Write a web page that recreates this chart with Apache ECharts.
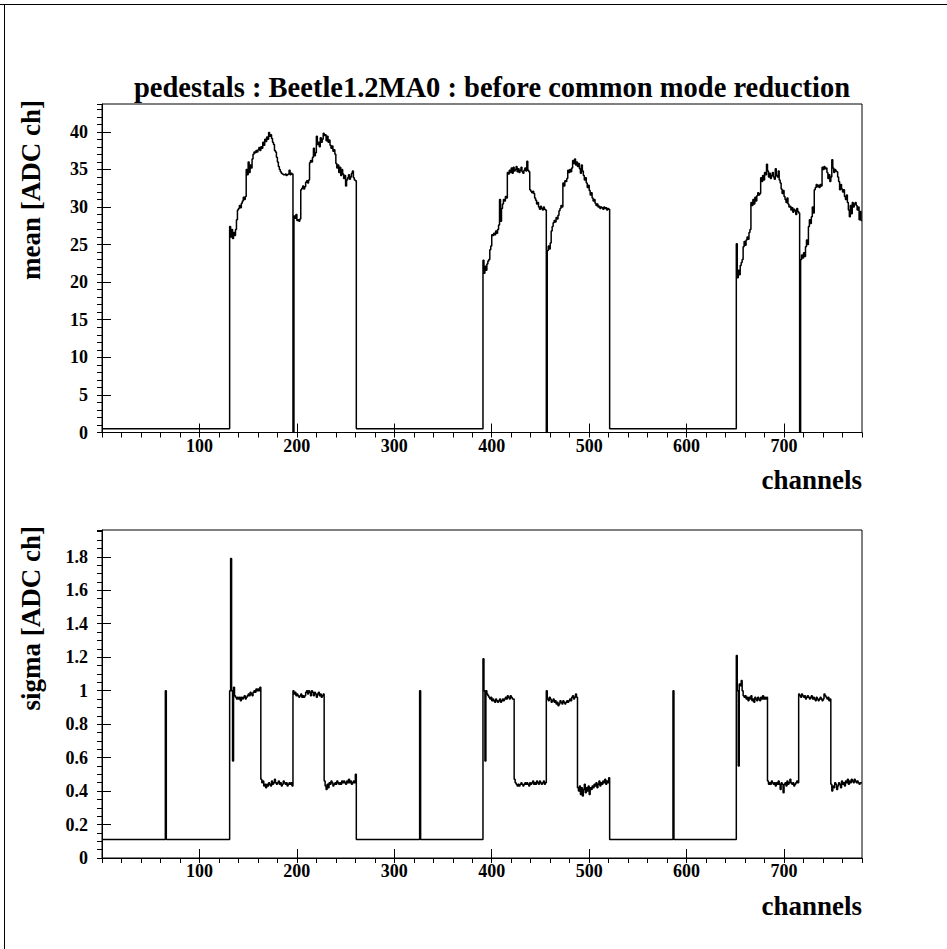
<!DOCTYPE html>
<html><head><meta charset="utf-8">
<script src="https://cdn.jsdelivr.net/npm/echarts@6/dist/echarts.min.js"></script>
<style>html,body{margin:0;padding:0;background:#fff;overflow:hidden}#c{width:947px;height:949px}</style>
</head><body><div id="c"></div>
<script>
// ---------------- data ----------------
const TITLE = 'pedestals : Beetle1.2MA0 : before common mode reduction';
const X_NAME = 'channels';
const Y_NAME_MEAN = 'mean [ADC ch]';
const Y_NAME_SIGMA = 'sigma [ADC ch]';
const N_CHANNELS = 780;
const X_TICK_LABELS = [100, 200, 300, 400, 500, 600, 700];
const MEAN_TICK_LABELS = [0, 5, 10, 15, 20, 25, 30, 35, 40];
const SIGMA_TICK_LABELS = [0, 0.2, 0.4, 0.6, 0.8, 1, 1.2, 1.4, 1.6, 1.8];

// unconnected channel blocks: [first channel, last channel, level]
const meanFlatBlocks  = [[0, 130, 0.5], [261, 390, 0.5], [521, 650, 0.5]];
const sigmaFlatBlocks = [[0, 130, 0.11], [261, 390, 0.11], [521, 650, 0.11]];
// single channels: [channel, value]
const sigmaFlatSpikes = [[65, 1.0], [326, 1.0], [586, 1.0]];
const meanDeadChannels = [[196, 0], [456, 0], [716, 0]];

// mean per channel, connected blocks
const meanHump1 = [27.4,26.0,27.0,25.8,26.6,26.2,27.0,28.3,29.6,29.8,30.2,29.9,30.5,30.8,31.3,31.0,31.4,35.0,34.3,36.0,34.6,35.6,35.2,36.4,37.0,37.3,37.2,37.5,37.3,37.6,37.9,37.5,38.0,37.8,38.6,38.2,39.0,38.7,39.3,39.0,39.9,39.4,39.6,39.1,38.6,38.3,37.5,37.3,36.6,36.0,35.4,35.0,34.7,34.5,34.4,34.3,34.3,34.4,34.2,34.3,34.4,34.9,34.3,34.5,34.4]; // 131..195
const meanHump2 = [28.8,28.5,29.0,28.2,28.3,28.1,28.4,32.3,32.5,32.8,32.4,32.7,33.3,33.5,33.2,33.6,35.9,36.2,36.0,36.6,37.8,36.8,37.2,39.4,38.3,38.6,38.0,39.2,38.6,39.0,39.8,39.5,39.6,38.8,39.4,38.6,38.9,38.2,37.8,38.1,37.4,37.6,37.0,35.8,35.2,35.6,34.6,35.3,34.2,35.0,34.4,33.8,34.2,32.8,33.6,33.9,34.3,33.7,34.0,34.5,34.8,33.9,33.6,33.5]; // 197..260
const meanHump3 = [22.9,21.2,22.1,21.6,22.4,22.8,23.0,24.3,24.8,26.3,26.2,26.5,26.3,26.8,26.5,27.0,27.6,31.0,28.1,29.8,30.4,31.0,30.8,31.4,31.2,34.6,34.4,34.9,34.6,35.2,34.5,35.3,34.8,35.0,35.4,34.7,35.1,34.6,34.9,35.3,34.7,34.5,34.9,35.2,34.8,36.1,34.9,34.7,32.3,32.1,31.9,32.1,31.8,31.2,30.9,30.4,30.6,30.0,29.7,30.1,29.8,29.6,30.0,29.7,29.6]; // 391..455
const meanHump4 = [24.2,24.8,24.4,25.2,26.8,27.4,27.9,28.2,28.0,28.6,28.4,28.9,29.5,29.8,30.2,30.0,33.2,32.8,33.5,33.4,33.8,34.9,34.6,35.0,34.7,35.2,36.2,35.8,36.4,35.6,36.0,35.4,35.8,35.1,34.5,35.6,34.8,34.2,33.6,33.9,33.2,32.6,32.9,32.2,31.6,31.9,31.2,30.8,31.0,30.5,30.2,30.4,30.0,30.1,29.8,30.0,29.9,29.7,30.0,29.8,29.9,29.6,29.8,29.7]; // 457..520
const meanHump5 = [25.1,20.6,21.6,21.0,22.2,22.6,23.0,24.7,25.4,24.9,25.6,26.0,25.7,26.6,27.0,30.6,30.2,31.0,30.4,31.3,30.8,31.5,31.9,31.6,31.8,33.9,33.4,34.2,33.6,34.6,34.3,35.7,34.8,34.0,34.5,33.8,34.2,34.6,34.0,33.7,35.1,34.2,34.0,34.8,33.6,33.2,32.4,31.8,32.2,31.4,31.0,30.6,31.2,30.4,30.0,30.1,29.6,29.9,29.3,29.7,29.5,29.0,29.8,29.4,29.2]; // 651..715
const meanHump6 = [23.0,23.6,23.2,23.9,23.4,24.7,25.6,25.0,27.4,28.3,27.8,28.7,30.0,29.2,32.3,32.6,33.0,32.7,32.9,32.6,33.0,32.8,35.3,35.0,35.4,35.1,35.2,34.6,33.8,34.3,33.4,34.0,36.3,35.2,34.6,35.0,34.8,34.7,34.0,33.4,32.3,33.0,32.4,32.0,32.3,31.4,31.0,31.6,30.6,29.6,28.7,30.2,29.1,30.6,30.0,30.4,30.6,30.2,29.6,30.0,28.3,29.4,28.2]; // 717..779

// sigma per channel, connected blocks (quarters)
const sigma1a = [1.0,1.79,1.0,0.58,1.02,0.97,0.96,0.95,0.96,0.95,0.96,0.94,0.96,0.95,0.96,0.97,0.95,0.96,0.97,0.98,0.97,0.99,0.98,0.97,0.99,1.0,0.99,1.01,1.0,1.01,1.0,1.02]; // 131..162
const sigma1b = [0.47,0.45,0.46,0.43,0.44,0.42,0.44,0.43,0.45,0.44,0.43,0.46,0.44,0.45,0.47,0.45,0.44,0.45,0.46,0.44,0.45,0.43,0.44,0.46,0.45,0.44,0.45,0.43,0.44,0.45,0.44,0.45,0.43]; // 163..195
const sigma1c = [1.0,0.98,0.99,0.97,0.98,0.97,0.96,0.97,0.98,0.96,0.97,0.96,0.97,0.99,1.0,0.98,1.0,0.99,0.97,1.0,0.99,0.97,0.99,0.98,0.96,0.98,0.99,0.97,0.98,0.96,0.97,0.98]; // 196..227
const sigma1d = [0.46,0.43,0.41,0.44,0.42,0.45,0.44,0.46,0.45,0.43,0.44,0.45,0.44,0.46,0.45,0.44,0.45,0.44,0.46,0.45,0.46,0.45,0.44,0.46,0.45,0.47,0.45,0.46,0.44,0.45,0.46,0.45,0.50]; // 228..260
const sigma2a = [1.19,1.0,0.58,1.0,0.98,0.97,0.96,0.95,0.96,0.94,0.95,0.94,0.93,0.95,0.94,0.93,0.94,0.95,0.93,0.94,0.95,0.94,0.95,0.96,0.95,0.97,0.96,0.95,0.97,0.96,0.95,0.95]; // 391..422
const sigma2b = [0.47,0.45,0.44,0.43,0.44,0.43,0.44,0.45,0.44,0.43,0.44,0.45,0.44,0.45,0.44,0.43,0.45,0.44,0.45,0.46,0.44,0.45,0.44,0.46,0.45,0.44,0.46,0.45,0.44,0.45,0.46,0.44,0.45]; // 423..455
const sigma2c = [1.0,0.95,0.94,0.96,0.95,0.93,0.94,0.95,0.93,0.94,0.92,0.93,0.91,0.92,0.94,0.93,0.92,0.94,0.93,0.92,0.93,0.94,0.93,0.94,0.95,0.94,0.96,0.97,0.95,0.96,0.98,0.96]; // 456..487
const sigma2d = [0.42,0.40,0.43,0.38,0.42,0.37,0.41,0.44,0.39,0.42,0.40,0.43,0.38,0.42,0.41,0.43,0.42,0.44,0.43,0.45,0.42,0.44,0.46,0.43,0.45,0.44,0.46,0.45,0.47,0.44,0.46,0.45,0.48]; // 488..520
const sigma3a = [1.21,1.0,0.55,1.04,1.03,1.06,1.0,0.97,0.96,0.97,0.95,0.96,0.94,0.96,0.95,0.97,0.94,0.95,0.93,0.96,0.95,0.94,0.96,0.95,0.94,0.96,0.95,0.97,0.95,0.96,0.95,0.96]; // 651..682
const sigma3b = [0.46,0.44,0.45,0.44,0.46,0.45,0.44,0.45,0.43,0.45,0.44,0.46,0.44,0.41,0.45,0.44,0.39,0.44,0.45,0.43,0.46,0.44,0.45,0.47,0.45,0.44,0.45,0.43,0.44,0.45,0.46,0.45]; // 683..714
const sigma3c = [0.98,0.97,0.96,0.98,0.97,0.96,0.97,0.95,0.96,0.97,0.96,0.95,0.96,0.97,0.95,0.96,0.95,0.94,0.96,0.95,0.94,0.95,0.96,0.95,0.94,0.95,0.98,0.97,0.96,0.95,0.96,0.94,0.95]; // 715..747
const sigma3d = [0.44,0.40,0.43,0.42,0.45,0.44,0.41,0.43,0.45,0.44,0.42,0.46,0.44,0.45,0.43,0.46,0.45,0.47,0.44,0.46,0.45,0.47,0.46,0.45,0.47,0.46,0.45,0.46,0.45,0.44,0.45,0.45]; // 748..779

// where each connected block begins (channel number)
const meanBlocks = [[131, meanHump1], [197, meanHump2], [391, meanHump3], [457, meanHump4], [651, meanHump5], [717, meanHump6]];
const sigmaBlocks = [[131, sigma1a], [163, sigma1b], [196, sigma1c], [228, sigma1d],
                     [391, sigma2a], [423, sigma2b], [456, sigma2c], [488, sigma2d],
                     [651, sigma3a], [683, sigma3b], [715, sigma3c], [748, sigma3d]];

// ---------------- assemble per-channel histograms ----------------
function buildHist(flatBlocks, blocks, singles) {
  const h = new Array(N_CHANNELS);
  flatBlocks.forEach(([a, b, v]) => { for (let c = a; c <= b; c++) h[c] = v; });
  blocks.forEach(([s, vals]) => vals.forEach((v, k) => { h[s + k] = v; }));
  singles.forEach(([c, v]) => { h[c] = v; });
  return h;
}
const meanHist = buildHist(meanFlatBlocks, meanBlocks, meanDeadChannels);
const sigmaHist = buildHist(sigmaFlatBlocks, sigmaBlocks, sigmaFlatSpikes);
function stepData(h) {
  const d = h.map((v, i) => [i, v]);
  d.push([N_CHANNELS, h[N_CHANNELS - 1]]);
  return d;
}

// ---------------- chart ----------------
const FONT = 'Liberation Serif';
const chart = echarts.init(document.getElementById('c'), null, { renderer: 'svg' });

const G = [
  { left: 102, right: 85, top: 104, height: 328.5 },
  { left: 102, right: 85, top: 530, height: 328 }
];

function xMajor(gi) {
  return {
    type: 'value', gridIndex: gi, min: 0, max: N_CHANNELS, interval: 100,
    name: X_NAME, nameLocation: 'end', nameGap: 0, nameMoveOverlap: false,
    nameTextStyle: { fontFamily: FONT, fontWeight: 'bold', fontSize: 27, color: '#000',
                     align: 'right', verticalAlign: 'top', padding: [34, 0, 0, 0] },
    axisLine: { show: true, lineStyle: { color: '#000', width: 1 } },
    axisTick: { show: true, inside: true, length: 9, lineStyle: { color: '#000' } },
    axisLabel: { show: true, margin: 4, fontFamily: FONT, fontWeight: 'bold', fontSize: 18, color: '#000',
                 showMinLabel: false, showMaxLabel: false,
                 formatter: v => (X_TICK_LABELS.indexOf(v) >= 0 ? String(v) : '') },
    splitLine: { show: false }
  };
}
function xMinor(gi) {
  return {
    type: 'value', gridIndex: gi, min: 0, max: N_CHANNELS, interval: 20,
    axisLine: { show: false }, axisLabel: { show: false }, splitLine: { show: false },
    axisTick: { show: true, inside: true, length: 5, lineStyle: { color: '#000' } }
  };
}
function yMajor(gi, max, interval, name, labels, padLeft) {
  return {
    type: 'value', gridIndex: gi, min: 0, max: max, interval: interval,
    name: name, nameLocation: 'end', nameGap: 4, nameRotate: 90, nameMoveOverlap: false,
    nameTextStyle: { fontFamily: FONT, fontWeight: 'bold', fontSize: 27, color: '#000',
                     align: 'right', verticalAlign: 'bottom', padding: [0, 0, padLeft, 0] },
    axisLine: { show: true, lineStyle: { color: '#000', width: 1 } },
    axisTick: { show: true, inside: true, length: 9, lineStyle: { color: '#000' } },
    axisLabel: { show: true, margin: 14, fontFamily: FONT, fontWeight: 'bold', fontSize: 18, color: '#000',
                 showMaxLabel: false,
                 formatter: v => {
                   const r = Math.round(v * 1000) / 1000;
                   return labels.indexOf(r) >= 0 ? String(r) : '';
                 } },
    splitLine: { show: false }
  };
}
function yMinor(gi, max, interval) {
  return {
    type: 'value', gridIndex: gi, min: 0, max: max, interval: interval,
    axisLine: { show: false }, axisLabel: { show: false }, splitLine: { show: false },
    axisTick: { show: true, inside: true, length: 5, lineStyle: { color: '#000' } }
  };
}

const option = {
  animation: false,
  backgroundColor: '#fff',
  title: {
    text: TITLE, left: 134, top: 73, padding: 0,
    textStyle: { fontFamily: FONT, fontWeight: 'bold', fontSize: 28.5, color: '#000' }
  },
  grid: G.map(g => Object.assign({ show: true, borderColor: '#000', borderWidth: 1, backgroundColor: 'transparent', containLabel: false }, g)),
  xAxis: [xMajor(0), xMinor(0), xMajor(1), xMinor(1)],
  yAxis: [
    yMajor(0, 43.7, 5, Y_NAME_MEAN, MEAN_TICK_LABELS, 58), yMinor(0, 43.7, 1),
    yMajor(1, 1.96, 0.2, Y_NAME_SIGMA, SIGMA_TICK_LABELS, 58), yMinor(1, 1.96, 0.05)
  ],
  series: [
    { type: 'line', name: 'mean', xAxisIndex: 0, yAxisIndex: 0, data: stepData(meanHist), step: 'end',
      showSymbol: false, symbol: 'none', lineStyle: { color: '#000', width: 1.5 }, silent: true },
    { type: 'line', name: 'sigma', xAxisIndex: 2, yAxisIndex: 2, data: stepData(sigmaHist), step: 'end',
      showSymbol: false, symbol: 'none', lineStyle: { color: '#000', width: 1.5 }, silent: true }
  ],
  graphic: [
    { type: 'line', shape: { x1: 0, y1: 4.5, x2: 947, y2: 4.5 }, style: { stroke: '#000', lineWidth: 1 } },
    { type: 'line', shape: { x1: 4.5, y1: 4, x2: 4.5, y2: 949 }, style: { stroke: '#000', lineWidth: 1 } }
  ]
};
chart.setOption(option);
</script>
</body></html>
